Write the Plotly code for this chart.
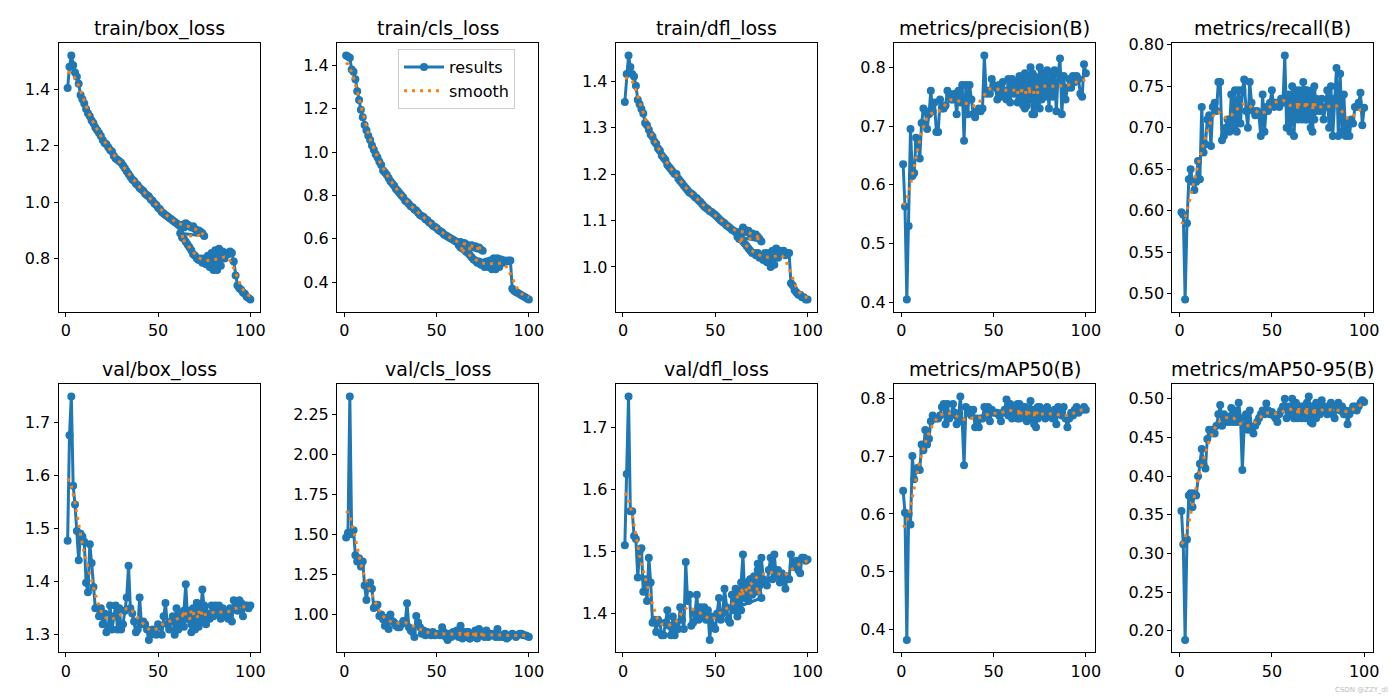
import numpy as np
import plotly.graph_objects as go

# ---------------- data (epochs; resumed run -> second segment re-covers epochs 62..100) ----------------
epochs_a = list(range(1, 76))
epochs_b = list(range(62, 101))

titles = ["train/box_loss", "train/cls_loss", "train/dfl_loss", "metrics/precision(B)", "metrics/recall(B)",
          "val/box_loss", "val/cls_loss", "val/dfl_loss", "metrics/mAP50(B)", "metrics/mAP50-95(B)"]

train_box_a = [1.405,1.48,1.52,1.485,1.46,1.445,1.42,1.38,1.365,1.35,
               1.33,1.315,1.305,1.29,1.28,1.265,1.255,1.245,1.235,1.22,
               1.21,1.205,1.195,1.185,1.18,1.165,1.155,1.15,1.145,1.14,
               1.13,1.12,1.11,1.10,1.09,1.08,1.075,1.065,1.06,1.05,
               1.045,1.04,1.03,1.025,1.02,1.01,1.005,0.995,0.99,0.98,
               0.975,0.965,0.96,0.955,0.95,0.945,0.94,0.935,0.93,0.925,
               0.92,0.915,0.92,0.91,0.925,0.92,0.915,0.91,0.915,0.905,
               0.90,0.90,0.895,0.89,0.88]
train_box_b = [0.89,0.875,0.87,0.86,0.85,0.84,0.83,0.815,0.81,0.80,
               0.795,0.80,0.785,0.80,0.78,0.81,0.77,0.82,0.76,0.83,
               0.76,0.835,0.775,0.825,0.80,0.82,0.815,0.825,0.82,0.79,
               0.74,0.705,0.695,0.69,0.68,0.675,0.665,0.66,0.655]

train_cls_a = [1.445,1.44,1.435,1.38,1.37,1.335,1.28,1.24,1.195,1.16,
               1.125,1.10,1.075,1.055,1.03,1.01,0.99,0.975,0.955,0.94,
               0.915,0.905,0.895,0.88,0.865,0.855,0.845,0.83,0.82,0.81,
               0.80,0.79,0.775,0.77,0.76,0.75,0.745,0.735,0.73,0.72,
               0.71,0.705,0.70,0.69,0.685,0.675,0.67,0.66,0.655,0.65,
               0.64,0.635,0.63,0.62,0.615,0.61,0.605,0.60,0.595,0.59,
               0.585,0.58,0.585,0.575,0.58,0.575,0.57,0.565,0.57,0.56,
               0.565,0.555,0.56,0.55,0.545]
train_cls_b = [0.57,0.56,0.555,0.55,0.54,0.535,0.525,0.515,0.505,0.50,
               0.49,0.495,0.48,0.49,0.47,0.495,0.47,0.50,0.46,0.51,
               0.46,0.51,0.47,0.505,0.49,0.50,0.495,0.50,0.50,0.37,
               0.36,0.355,0.35,0.345,0.34,0.335,0.33,0.325,0.32]

train_dfl_a = [1.355,1.415,1.455,1.43,1.415,1.41,1.39,1.36,1.35,1.34,
               1.33,1.31,1.305,1.295,1.285,1.28,1.27,1.265,1.255,1.25,
               1.24,1.235,1.23,1.22,1.215,1.21,1.205,1.20,1.20,1.19,
               1.185,1.18,1.175,1.17,1.165,1.16,1.158,1.155,1.15,1.148,
               1.143,1.14,1.135,1.13,1.127,1.124,1.12,1.118,1.115,1.112,
               1.108,1.104,1.10,1.097,1.094,1.09,1.087,1.084,1.08,1.078,
               1.075,1.072,1.075,1.07,1.085,1.08,1.075,1.078,1.07,1.072,
               1.068,1.07,1.065,1.06,1.055]
train_dfl_b = [1.065,1.06,1.06,1.055,1.05,1.045,1.04,1.035,1.03,1.03,
               1.025,1.03,1.02,1.025,1.015,1.03,1.01,1.03,1.00,1.035,
               1.005,1.04,1.02,1.035,1.03,1.035,1.025,1.03,1.03,0.965,
               0.96,0.95,0.945,0.94,0.94,0.935,0.935,0.93,0.93]

precision_a = [0.635,0.563,0.405,0.53,0.695,0.615,0.62,0.68,0.67,0.645,
               0.705,0.73,0.725,0.695,0.72,0.76,0.725,0.74,0.69,0.69,
               0.745,0.73,0.73,0.735,0.76,0.755,0.745,0.745,0.755,0.72,
               0.76,0.74,0.77,0.675,0.77,0.72,0.77,0.745,0.72,0.715,
               0.725,0.73,0.725,0.73,0.82,0.755,0.76,0.755,0.78,0.77,
               0.765,0.745,0.77,0.75,0.775,0.76,0.745,0.78,0.74,0.78,
               0.755,0.775,0.74,0.785,0.75,0.775,0.73,0.77,0.745,0.80,
               0.72,0.785,0.735,0.775,0.73]
precision_b = [0.77,0.76,0.745,0.78,0.735,0.79,0.735,0.785,0.76,0.79,
               0.72,0.775,0.76,0.80,0.745,0.79,0.75,0.795,0.73,0.79,
               0.75,0.795,0.725,0.79,0.815,0.72,0.785,0.745,0.765,0.78,
               0.765,0.785,0.775,0.785,0.78,0.755,0.75,0.805,0.79]

recall_a = [0.598,0.595,0.493,0.585,0.638,0.65,0.635,0.625,0.635,0.66,
            0.638,0.725,0.67,0.68,0.71,0.715,0.678,0.725,0.73,0.72,
            0.755,0.755,0.685,0.69,0.70,0.71,0.695,0.74,0.70,0.745,
            0.695,0.745,0.705,0.745,0.758,0.72,0.70,0.755,0.73,0.72,
            0.715,0.72,0.715,0.69,0.74,0.695,0.725,0.72,0.73,0.745,
            0.725,0.73,0.73,0.725,0.735,0.73,0.787,0.70,0.74,0.695,
            0.75,0.69,0.745,0.715,0.73,0.71,0.755,0.71,0.745,0.72,
            0.74,0.695,0.75,0.72,0.73]
recall_b = [0.725,0.74,0.71,0.745,0.715,0.735,0.745,0.71,0.73,0.70,
            0.745,0.71,0.735,0.725,0.72,0.735,0.71,0.725,0.745,0.70,
            0.75,0.69,0.735,0.772,0.69,0.765,0.695,0.74,0.69,0.705,
            0.69,0.71,0.705,0.725,0.725,0.73,0.742,0.703,0.724]

val_box_a = [1.477,1.675,1.748,1.58,1.545,1.495,1.44,1.49,1.485,1.475,
             1.398,1.38,1.47,1.435,1.39,1.35,1.35,1.335,1.35,1.32,
             1.34,1.305,1.315,1.355,1.31,1.335,1.355,1.31,1.35,1.31,
             1.32,1.345,1.37,1.43,1.35,1.34,1.325,1.305,1.31,1.37,
             1.32,1.325,1.32,1.31,1.29,1.30,1.31,1.305,1.30,1.32,
             1.315,1.30,1.335,1.36,1.32,1.31,1.325,1.335,1.30,1.35,
             1.31,1.33,1.335,1.345,1.395,1.33,1.345,1.32,1.35,1.33,
             1.36,1.315,1.34,1.385,1.35]
val_box_b = [1.32,1.34,1.315,1.345,1.33,1.335,1.305,1.34,1.31,1.36,
             1.33,1.35,1.325,1.355,1.32,1.34,1.33,1.355,1.335,1.355,
             1.34,1.355,1.33,1.35,1.335,1.345,1.33,1.35,1.325,1.365,
             1.36,1.345,1.365,1.36,1.335,1.355,1.355,1.35,1.355]

val_cls_a = [1.48,1.51,2.36,1.50,1.525,1.37,1.33,1.35,1.30,1.33,
             1.18,1.09,1.19,1.20,1.16,1.04,1.06,1.06,0.99,1.00,
             0.97,0.93,0.98,0.91,1.00,0.96,0.95,0.93,0.92,0.92,
             0.94,0.96,0.95,1.07,0.92,0.90,0.89,0.86,0.99,0.95,
             0.92,0.88,0.90,0.87,0.89,0.88,0.87,0.89,0.87,0.875,
             0.88,0.87,0.92,0.89,0.86,0.84,0.88,0.86,0.89,0.87,
             0.90,0.86,0.93,0.87,0.89,0.86,0.89,0.85,0.88,0.87,
             0.90,0.86,0.91,0.87,0.88]
val_cls_b = [0.87,0.89,0.85,0.88,0.86,0.89,0.85,0.88,0.86,0.87,
             0.85,0.90,0.87,0.88,0.86,0.90,0.86,0.88,0.87,0.88,
             0.86,0.91,0.86,0.87,0.86,0.88,0.85,0.86,0.87,0.88,
             0.87,0.86,0.87,0.88,0.88,0.87,0.87,0.865,0.86]

val_dfl_a = [1.51,1.625,1.75,1.565,1.565,1.525,1.52,1.458,1.50,1.505,
             1.435,1.455,1.42,1.49,1.45,1.385,1.39,1.37,1.39,1.385,
             1.365,1.365,1.385,1.405,1.38,1.365,1.395,1.365,1.385,1.375,
             1.41,1.39,1.375,1.483,1.42,1.43,1.38,1.385,1.40,1.43,
             1.39,1.41,1.395,1.41,1.39,1.405,1.357,1.395,1.38,1.375,
             1.40,1.425,1.39,1.40,1.44,1.41,1.39,1.385,1.43,1.405,
             1.44,1.395,1.425,1.45,1.495,1.425,1.44,1.42,1.455,1.43,
             1.45,1.435,1.47,1.445,1.425]
val_dfl_b = [1.41,1.43,1.405,1.44,1.43,1.45,1.435,1.455,1.44,1.46,
             1.445,1.48,1.46,1.49,1.455,1.45,1.445,1.47,1.49,1.455,
             1.495,1.46,1.47,1.45,1.465,1.455,1.44,1.46,1.455,1.495,
             1.475,1.48,1.485,1.47,1.465,1.49,1.49,1.485,1.487]

map50_a = [0.64,0.602,0.382,0.60,0.582,0.70,0.66,0.675,0.68,0.676,
           0.72,0.71,0.745,0.72,0.73,0.76,0.77,0.765,0.765,0.765,
           0.77,0.785,0.79,0.755,0.79,0.765,0.77,0.79,0.775,0.755,
           0.765,0.803,0.76,0.684,0.785,0.775,0.78,0.77,0.78,0.75,
           0.765,0.75,0.765,0.765,0.785,0.77,0.785,0.76,0.78,0.775,
           0.775,0.775,0.77,0.76,0.775,0.78,0.798,0.77,0.79,0.765,
           0.785,0.78,0.765,0.79,0.77,0.785,0.765,0.775,0.77,0.795,
           0.765,0.78,0.75,0.785,0.77]
map50_b = [0.775,0.79,0.765,0.78,0.77,0.785,0.76,0.78,0.765,0.775,
           0.755,0.78,0.765,0.785,0.77,0.78,0.765,0.785,0.77,0.775,
           0.765,0.78,0.755,0.785,0.775,0.77,0.785,0.765,0.75,0.765,
           0.775,0.77,0.78,0.785,0.775,0.78,0.78,0.785,0.78]

map5095_a = [0.355,0.312,0.188,0.318,0.375,0.378,0.36,0.378,0.375,0.40,
             0.416,0.435,0.415,0.41,0.448,0.46,0.455,0.46,0.455,0.465,
             0.48,0.492,0.465,0.48,0.47,0.477,0.47,0.488,0.47,0.485,
             0.47,0.495,0.475,0.408,0.465,0.48,0.46,0.485,0.46,0.455,
             0.465,0.47,0.475,0.48,0.485,0.48,0.494,0.485,0.48,0.483,
             0.478,0.475,0.47,0.48,0.485,0.49,0.50,0.475,0.49,0.48,
             0.50,0.475,0.495,0.478,0.49,0.475,0.49,0.48,0.495,0.503,
             0.47,0.49,0.475,0.495,0.48]
map5095_b = [0.48,0.49,0.475,0.485,0.48,0.49,0.475,0.485,0.48,0.49,
             0.468,0.485,0.475,0.49,0.48,0.498,0.485,0.49,0.48,0.485,
             0.495,0.48,0.475,0.49,0.495,0.485,0.49,0.48,0.485,0.467,
             0.48,0.485,0.49,0.49,0.485,0.49,0.495,0.498,0.496]

series = [(train_box_a, train_box_b), (train_cls_a, train_cls_b), (train_dfl_a, train_dfl_b),
          (precision_a, precision_b), (recall_a, recall_b),
          (val_box_a, val_box_b), (val_cls_a, val_cls_b), (val_dfl_a, val_dfl_b),
          (map50_a, map50_b), (map5095_a, map5095_b)]

ytick_step = [0.2, 0.2, 0.1, 0.1, 0.05, 0.1, 0.25, 0.1, 0.1, 0.05]
ytick_fmt = [".1f", ".1f", ".1f", ".1f", ".2f", ".1f", ".2f", ".1f", ".1f", ".2f"]

# ---------------- helpers ----------------
def gaussian_filter1d(y, sigma=3.0):
    r = int(4 * sigma + 0.5)
    k = np.arange(-r, r + 1)
    w = np.exp(-0.5 * (k / sigma) ** 2)
    w /= w.sum()
    yp = np.pad(np.asarray(y, dtype=float), r, mode="symmetric")
    return np.convolve(yp, w, mode="valid")

W, H = 1400, 700
col_left = [58.5, 337.0, 615.7, 894.0, 1172.3]
ax_w = 201.0
row_tb = [(43.3, 311.7), (384.3, 652.3)]

BLUE = "#1f77b4"
ORANGE = "#ff7f0e"
FONT = "DejaVu Sans"

fig = go.Figure()
layout = dict(width=W, height=H, margin=dict(l=0, r=0, t=0, b=0),
              paper_bgcolor="white", plot_bgcolor="white", template="none",
              font=dict(family=FONT, size=16, color="black"))
annotations = []

x_all = epochs_a + epochs_b
for i, (ya, yb) in enumerate(series):
    assert len(ya) == len(epochs_a) and len(yb) == len(epochs_b), (i, len(ya), len(yb))
    y_all = list(ya) + list(yb)
    smooth = gaussian_filter1d(y_all, 3)
    r, c = divmod(i, 5)
    sfx = "" if i == 0 else str(i + 1)
    xa, ya_name = "x" + sfx, "y" + sfx
    show = (i == 1)
    fig.add_trace(go.Scatter(x=x_all, y=y_all, mode="lines+markers", name="results",
                             line=dict(color=BLUE, width=3), marker=dict(color=BLUE, size=8),
                             xaxis=xa, yaxis=ya_name, showlegend=show, hoverinfo="skip"))
    fig.add_trace(go.Scatter(x=x_all, y=smooth, mode="lines", name="smooth",
                             line=dict(color=ORANGE, width=3, dash="3px,5px"),
                             xaxis=xa, yaxis=ya_name, showlegend=show, hoverinfo="skip"))
    lo, hi = min(y_all), max(y_all)
    pad = 0.05 * (hi - lo)
    xmin, xmax = min(x_all), max(x_all)
    xpad = 0.05 * (xmax - xmin)
    top, bot = row_tb[r]
    x0 = col_left[c] / W
    x1 = (col_left[c] + ax_w) / W
    y0 = 1 - bot / H
    y1 = 1 - top / H
    common = dict(showline=True, linecolor="black", linewidth=1, mirror=True,
                  ticks="outside", ticklen=4, tickcolor="black", showgrid=False, zeroline=False,
                  tickfont=dict(family=FONT, size=16, color="black"))
    layout["xaxis" + sfx] = dict(domain=[x0, x1], anchor=ya_name, range=[xmin - xpad, xmax + xpad],
                                 tickmode="array", tickvals=[0, 50, 100], **common)
    layout["yaxis" + sfx] = dict(domain=[y0, y1], anchor=xa, range=[lo - pad, hi + pad],
                                 tick0=0, dtick=ytick_step[i], tickformat=ytick_fmt[i], **common)
    annotations.append(dict(text=titles[i], x=(x0 + x1) / 2, y=1 - (top - 15) / H,
                            xref="paper", yref="paper", xanchor="center", yanchor="middle",
                            showarrow=False, font=dict(family=FONT, size=19, color="black")))

annotations.append(dict(text="CSDN @ZZY_dl", x=1390 / W, y=1 - 690 / H, xref="paper", yref="paper",
                        xanchor="right", yanchor="middle", showarrow=False,
                        font=dict(family=FONT, size=7, color="#bbbbbb")))
layout["annotations"] = annotations
layout["legend"] = dict(x=398 / W, y=1 - 49 / H, xanchor="left", yanchor="top",
                        bgcolor="rgba(255,255,255,0.8)", bordercolor="#cccccc", borderwidth=1,
                        font=dict(family=FONT, size=16, color="black"), tracegroupgap=0,
                        itemwidth=40)
fig.update_layout(**layout)
fig.write_html("out.html", config={"displayModeBar": False},
               post_script="document.body.style.margin='0';document.body.style.padding='0';")
